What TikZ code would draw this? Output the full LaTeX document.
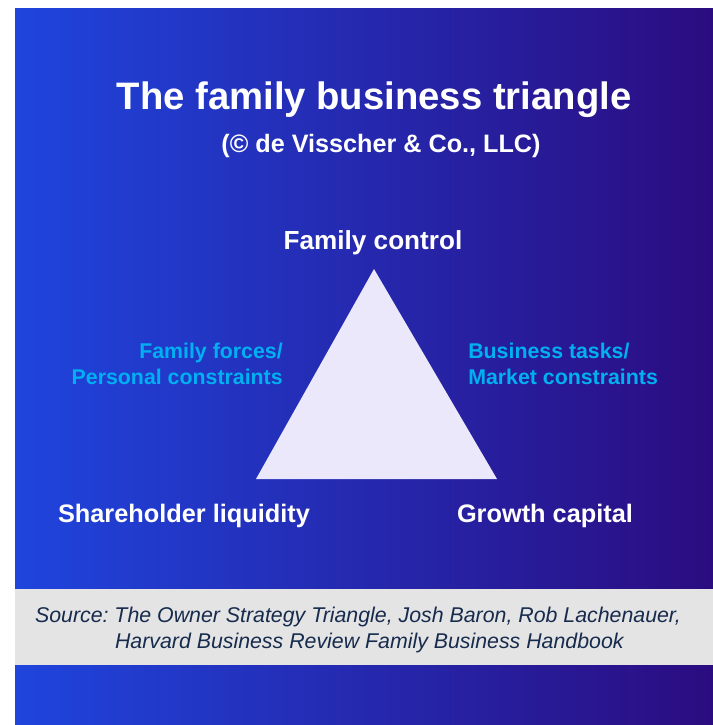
\documentclass[tikz,border=0pt]{standalone}
\usepackage{fontspec}
\setmainfont{Liberation Sans}
\definecolor{fbleft}  {RGB}{31,69,221}
\definecolor{fbright} {RGB}{43,12,128}
\definecolor{fbtri}   {RGB}{234,232,250}
\definecolor{fbcyan}  {RGB}{0,176,240}
\definecolor{fbband}  {RGB}{228,228,228}
\definecolor{fbnavy}  {RGB}{23,43,77}
\usetikzlibrary{positioning,calc}
\frenchspacing
\tikzset{
  headline/.style={text=white,font=\bfseries\fontsize{28.7}{32}\selectfont,inner sep=0pt,anchor=base},
  subline/.style={text=white,font=\bfseries\fontsize{18.9}{22}\selectfont,inner sep=0pt,anchor=base},
  corner/.style={text=white,font=\bfseries\fontsize{#1}{22}\selectfont,inner sep=0pt,anchor=base},
  corner/.default=19,
  side/.style={text=fbcyan,font=\bfseries\fontsize{16}{19.5}\selectfont,inner sep=0pt,align=#1},
  side/.default=left,
  srcnote/.style={text=fbnavy,font=\itshape\fontsize{16}{19.5}\selectfont,inner sep=0pt,align=center},
}

\begin{document}
\begin{tikzpicture}[x=0.75pt,y=-0.75pt]
  \useasboundingbox (0,0) rectangle (713,725);
  \fill[white] (0,0) rectangle (713,725);
  % backdrop and source band
  \shade[left color=fbleft,right color=fbright] (15,8) rectangle (713,725);
  \fill[fbband] (15,589) rectangle (713,665);

  \node[headline] (title) at (374,109) {The family business triangle};
  \node[subline] (copy) at (381,152) {(© de Visscher \& Co., LLC)};

  % the triangle
  \coordinate (top)   at (374,269);
  \coordinate (left)  at (256,479);
  \coordinate (right) at (497,479);
  \fill[fbtri] (top) -- (left) -- (right) -- cycle;

  \node[corner=19.6] (control) at (373,249) {Family control};
  \node[corner] (liquidity) at (184,522) {Shareholder liquidity};
  \node[corner] (growth)    at (545,522) {Growth capital};

  \node[side=right, anchor=east] (family) at (283,364)
    {Family forces/\\Personal constraints};
  \node[side=left, anchor=west] (business) at (468,364)
    {Business tasks/\\Market constraints};

  \node[srcnote] (source) at (358,630)
    {Source: The Owner Strategy Triangle, Josh Baron, Rob Lachenauer,\\
     \hspace*{17pt}Harvard Business Review Family Business Handbook};
\end{tikzpicture}
\end{document}
